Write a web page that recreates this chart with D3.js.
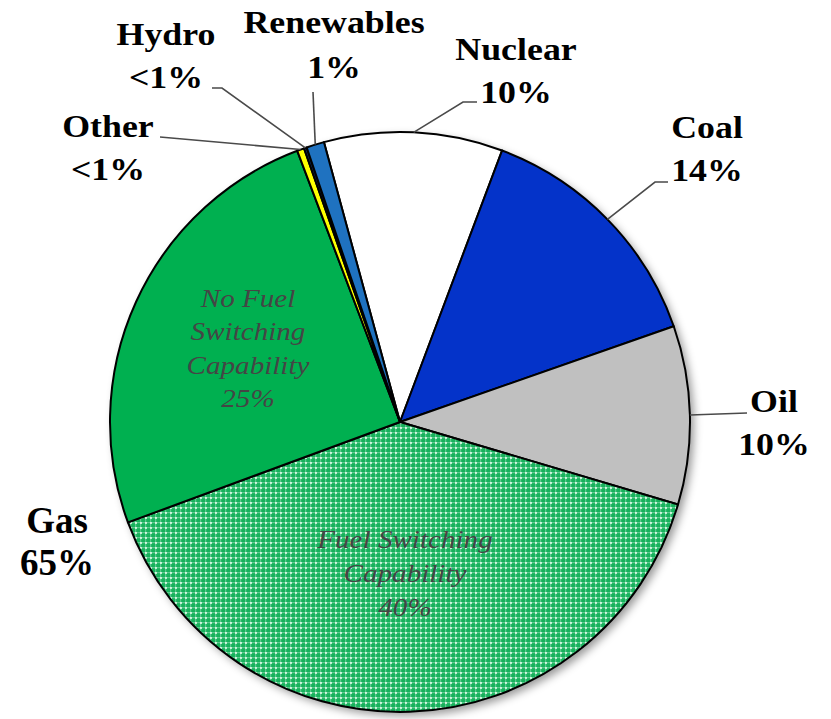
<!DOCTYPE html>
<html>
<head>
<meta charset="utf-8">
<script src="https://cdn.jsdelivr.net/npm/d3@7"></script>
<style>
  html, body { margin: 0; padding: 0; background: #ffffff; }
  svg { display: block; }
</style>
</head>
<body>
<svg id="chart" width="831" height="719"></svg>
<script>
// Shares of capacity by fuel (percent), clockwise from the top
const sliceNames  = ["Nuclear", "Coal", "Oil", "Fuel Switching Capability",
                     "No Fuel Switching Capability", "Other", "Hydro", "Renewables"];
const sliceShares = [10, 14, 10, 40, 25, 0.4, 0.15, 1];

// Gas is the sum of the two gas slices
const gasParts = ["Fuel Switching Capability", "No Fuel Switching Capability"];

// Outer labels (name + share)
const outerLabels = ["Nuclear", "Coal", "Oil", "Other", "Hydro", "Renewables"];

const fillColors = ["#ffffff", "#0433c9", "#c0c0c0", "url(#fsPattern)",
                    "#00b050", "#ffff00", "#10306a", "#1f72c0"];

const fmtShare = v => v < 1 ? "<1%" : Math.round(v) + "%";

const svg = d3.select("#chart");
const cx = 400, cy = 422, R = 290;
const deg = Math.PI / 180;
const start = -15.2 * deg;

const color = d3.scaleOrdinal().domain(sliceNames).range(fillColors);

const defs = svg.append("defs");
const shadow = defs.append("filter").attr("id", "pieShadow")
  .attr("x", "-10%").attr("y", "-10%").attr("width", "125%").attr("height", "125%");
shadow.append("feDropShadow")
  .attr("dx", 4).attr("dy", 4).attr("stdDeviation", 4)
  .attr("flood-color", "#000").attr("flood-opacity", 0.4);

// dotted grid fill for the fuel-switching slice
const pat = defs.append("pattern").attr("id", "fsPattern")
  .attr("patternUnits", "userSpaceOnUse").attr("width", 5).attr("height", 5);
pat.append("rect").attr("width", 5).attr("height", 5).attr("fill", "#17b25c");
pat.append("rect").attr("x", 0).attr("y", 0).attr("width", 5).attr("height", 1.2)
  .attr("fill", "#ffffff").attr("opacity", 0.3);
pat.append("rect").attr("x", 0).attr("y", 0).attr("width", 1.2).attr("height", 5)
  .attr("fill", "#ffffff").attr("opacity", 0.3);
pat.append("rect").attr("x", 0).attr("y", 0).attr("width", 2).attr("height", 2)
  .attr("fill", "#e6fff0").attr("opacity", 0.75);

const pie = d3.pie().sort(null).value(d => d.v)
  .startAngle(start).endAngle(start + 2 * Math.PI);
const data = sliceNames.map((n, i) => ({ name: n, v: sliceShares[i] }));
const arcs = pie(data);
const arc = d3.arc().innerRadius(0).outerRadius(R);
const edge = d3.arc().innerRadius(R).outerRadius(R);

const g = svg.append("g").attr("transform", `translate(${cx},${cy})`);

g.append("circle").attr("r", R).attr("fill", "#fff").attr("filter", "url(#pieShadow)");

g.selectAll("path.slice").data(arcs).join("path")
  .attr("class", "slice")
  .attr("d", arc)
  .attr("fill", d => color(d.data.name))
  .attr("stroke", "#000")
  .attr("stroke-width", 2)
  .attr("stroke-linejoin", "round");

// leader-line bends and ends, relative to the chart origin
const leaderPath = {
  "Nuclear":    [[463, 102], [477, 102]],
  "Coal":       [[655, 182], [668, 182]],
  "Oil":        [[747, 413]],
  "Renewables": [[313, 92]],
  "Hydro":      [[222, 88], [212, 88]],
  "Other":      [[160, 137]]
};
// label anchor (centre, first baseline)
const labelPos = {
  "Nuclear":    [516, 60],
  "Coal":       [707, 138],
  "Oil":        [774, 412],
  "Renewables": [334, 33],
  "Hydro":      [166, 45],
  "Other":      [108, 137]
};

const line = d3.line();
outerLabels.forEach(name => {
  const a = arcs.find(d => d.data.name === name);
  const [px, py] = edge.centroid(a);
  const pts = [[cx + px, cy + py], ...leaderPath[name]];
  svg.append("path").attr("d", line(pts))
    .attr("fill", "none").attr("stroke", "#4a4a4a").attr("stroke-width", 1.6);

  const [lx, ly] = labelPos[name];
  const t = svg.append("g").attr("transform", `translate(${lx},${ly}) scale(1.12,1)`)
    .attr("font-family", "'Liberation Serif', 'Times New Roman', serif")
    .attr("font-weight", "bold").attr("font-size", 32).attr("fill", "#000")
    .attr("text-anchor", "middle");
  t.append("text").attr("y", 0).text(name);
  t.append("text").attr("y", name === "Renewables" ? 45 : 43).text(fmtShare(a.data.v));
});

// Gas total label
const gasTotal = d3.sum(data.filter(d => gasParts.includes(d.name)), d => d.v);
const gg = svg.append("g").attr("transform", "translate(57,533)")
  .attr("font-family", "'Liberation Serif', 'Times New Roman', serif")
  .attr("font-weight", "bold").attr("font-size", 37).attr("fill", "#000")
  .attr("text-anchor", "middle");
gg.append("text").attr("y", 0).text("Gas");
gg.append("text").attr("y", 42).text(fmtShare(gasTotal));

// italic in-slice labels for the gas split
const innerLines = {
  "No Fuel Switching Capability": { pos: [248, 307], lines: ["No Fuel", "Switching", "Capability"], step: 33.5 },
  "Fuel Switching Capability":    { pos: [405, 548], lines: ["Fuel Switching", "Capability"], step: 34 }
};
Object.entries(innerLines).forEach(([name, cfg]) => {
  const a = arcs.find(d => d.data.name === name);
  const t = svg.append("g").attr("transform", `translate(${cfg.pos[0]},${cfg.pos[1]}) scale(1.12,1)`)
    .attr("font-family", "'Liberation Serif', 'Times New Roman', serif")
    .attr("font-style", "italic").attr("font-size", 26).attr("fill", "#454545")
    .attr("text-anchor", "middle");
  cfg.lines.concat([fmtShare(a.data.v)]).forEach((s, i) => {
    t.append("text").attr("y", i * cfg.step).text(s);
  });
});
</script>
</body>
</html>
